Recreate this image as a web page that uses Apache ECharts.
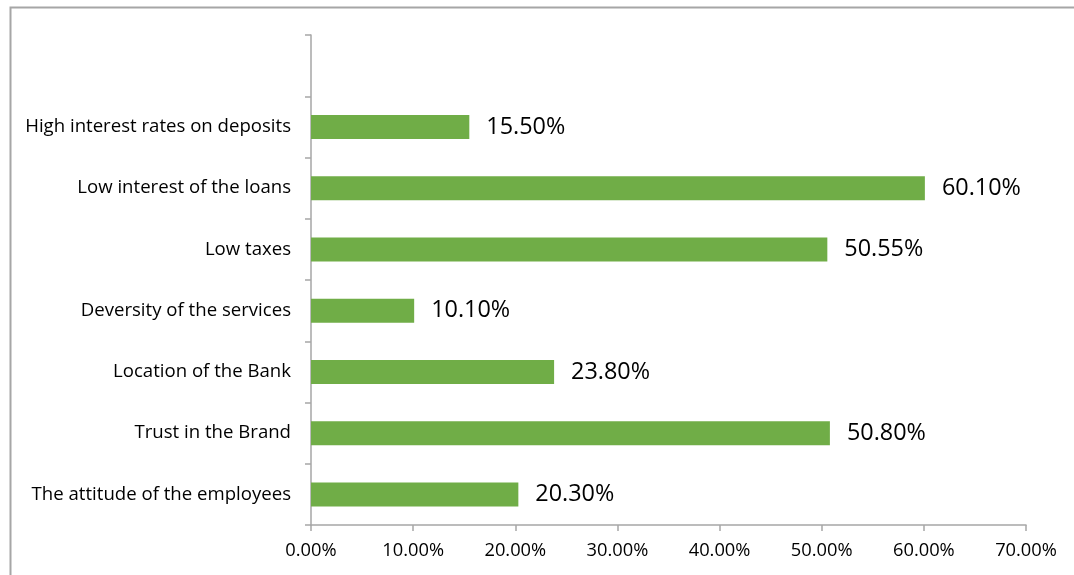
<!DOCTYPE html>
<html>
<head>
<meta charset="utf-8">
<script src="https://cdn.jsdelivr.net/npm/echarts@6/dist/echarts.min.js"></script>
<style>html,body{margin:0;padding:0;background:#fff}#c{width:1074px;height:575px}</style>
</head>
<body>
<div id="c"></div>
<script>
// categories bottom -> top; last one is the empty slot at the top of the axis
const categories = [
  'The attitude of the employees',
  'Trust in the Brand',
  'Location of the Bank',
  'Deversity of the services',
  'Low taxes',
  'Low interest of the loans',
  'High interest rates on deposits',
  ''
];
const values = [20.30, 50.80, 23.80, 10.10, 50.55, 60.10, 15.50, null];
const xTicks = [0, 10, 20, 30, 40, 50, 60, 70];

const chart = echarts.init(document.getElementById('c'));
const font = '"Open Sans", sans-serif';
chart.setOption({
  animation: false,
  backgroundColor: '#fff',
  graphic: [{
    type: 'rect', left: 8, top: 5, silent: true,
    shape: { width: 1200, height: 700 },
    style: { fill: 'none', stroke: '#a6a6a6', lineWidth: 2 }
  }],
  grid: { left: 311, right: 48, top: 35, bottom: 50, containLabel: false },
  xAxis: {
    type: 'value', min: xTicks[0], max: xTicks[xTicks.length - 1], interval: 10,
    axisLine: { show: true, lineStyle: { color: '#a6a6a6', width: 1.5 } },
    axisTick: { show: true, length: 6, lineStyle: { color: '#a6a6a6', width: 1.5 } },
    splitLine: { show: false },
    axisLabel: { color: '#000', fontFamily: font, fontSize: 18.3, margin: 17,
      formatter: v => v.toFixed(2) + '%' }
  },
  yAxis: {
    type: 'category', data: categories,
    axisLine: { show: true, lineStyle: { color: '#a6a6a6', width: 1.5 } },
    axisTick: { show: true, length: 6, lineStyle: { color: '#a6a6a6', width: 1.5 } },
    axisLabel: { color: '#000', fontFamily: font, fontSize: 18.6, margin: 20, padding: [3, 0, 0, 0] }
  },
  series: [{
    type: 'bar', data: values, barWidth: 24,
    itemStyle: { color: '#70AD47' },
    label: { show: true, position: 'right', distance: 17, color: '#000',
      fontFamily: font, fontSize: 23.4, padding: [3, 0, 0, 0],
      formatter: p => p.value == null ? '' : p.value.toFixed(2) + '%' }
  }]
});
</script>
</body>
</html>
